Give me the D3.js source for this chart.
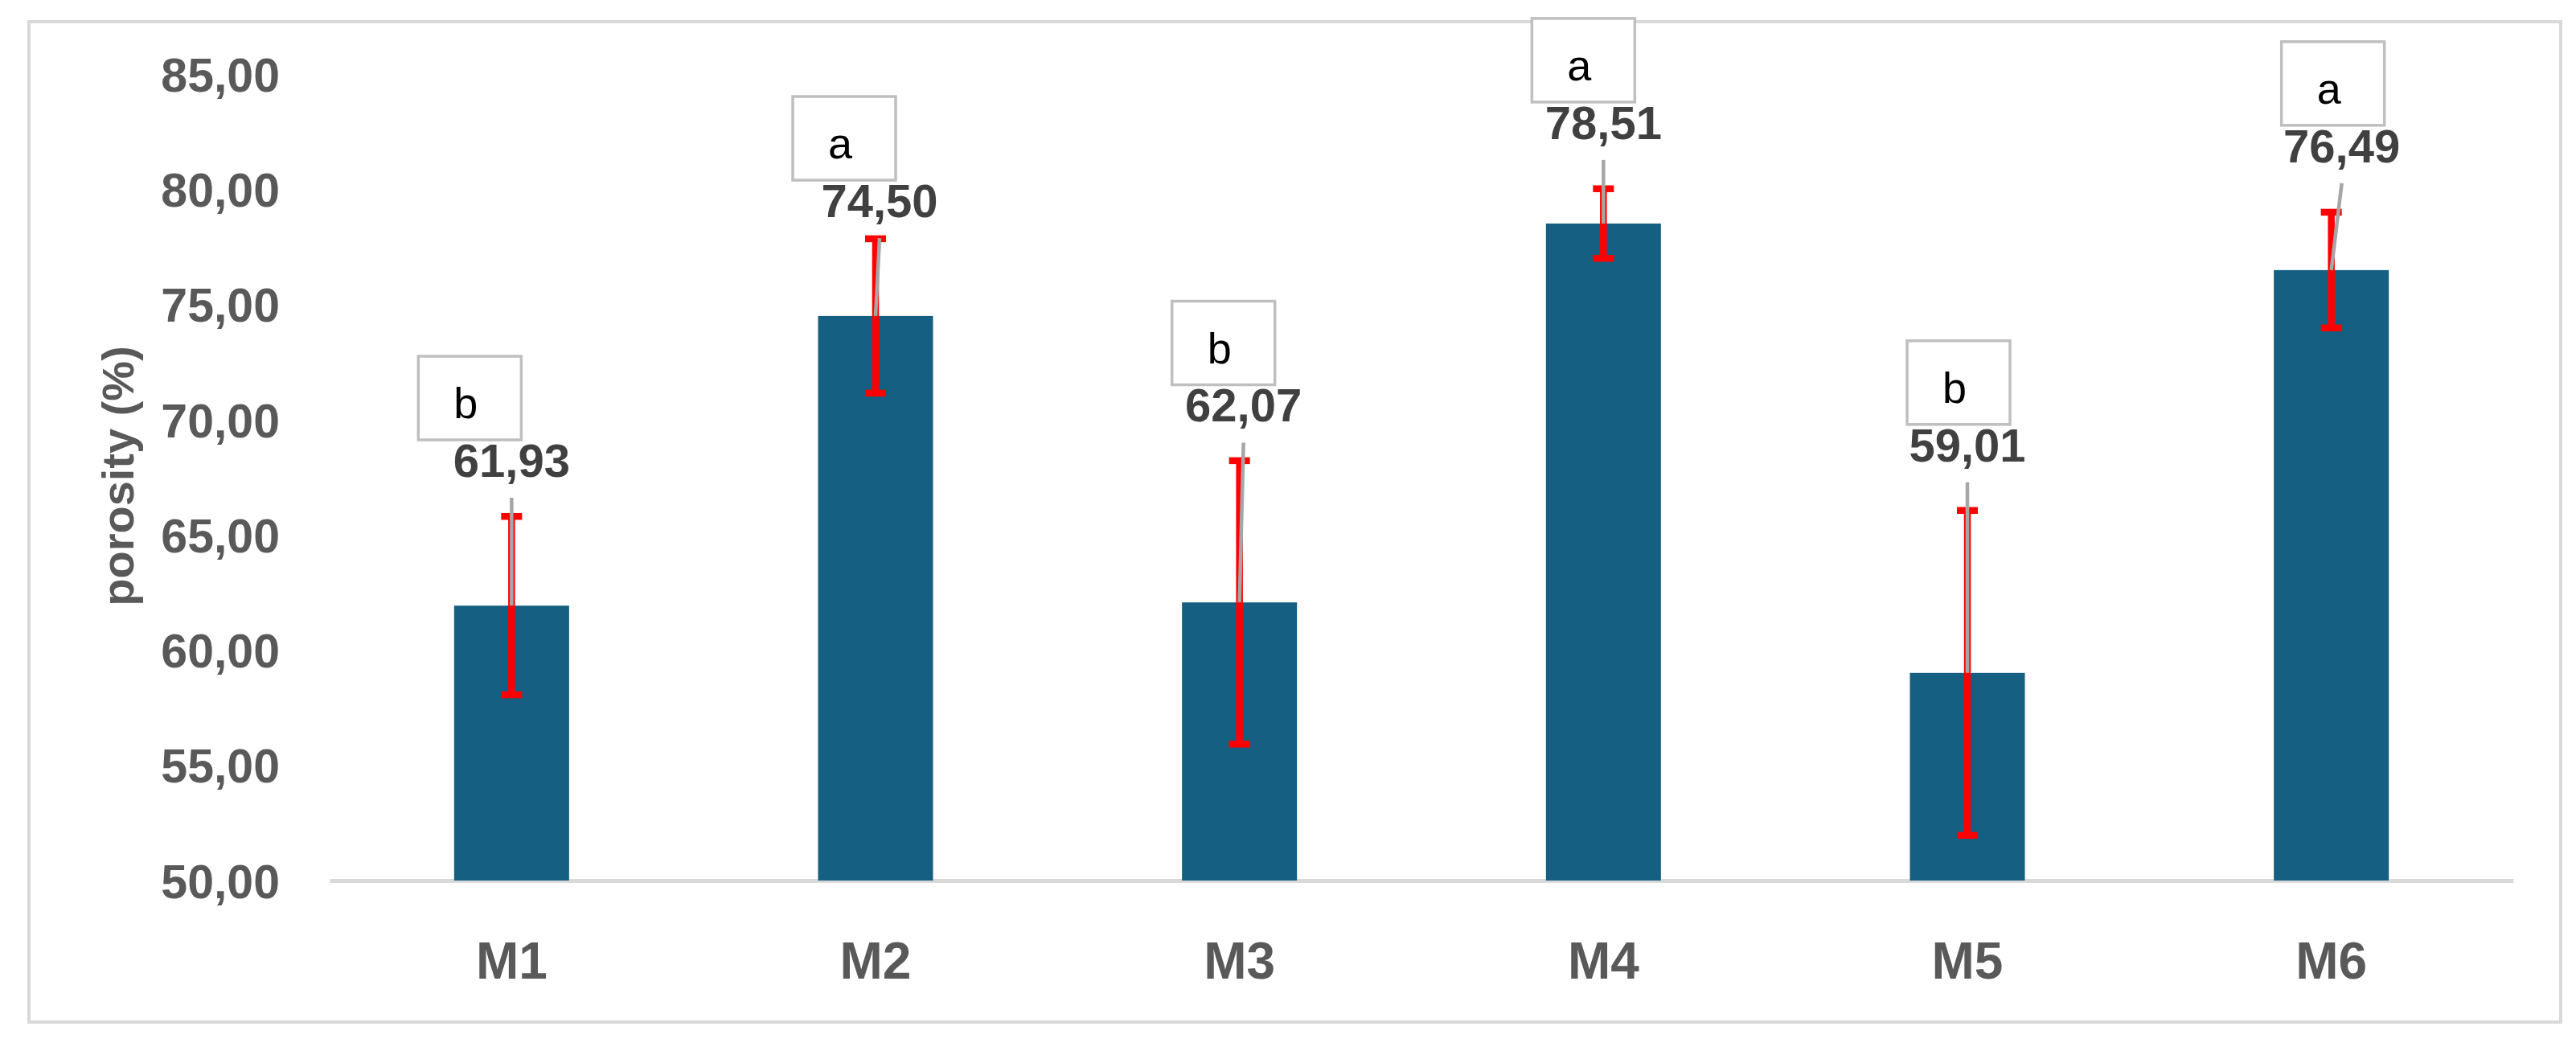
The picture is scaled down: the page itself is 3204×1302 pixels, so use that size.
<!DOCTYPE html>
<html>
<head>
<meta charset="utf-8">
<script src="https://cdn.jsdelivr.net/npm/d3@7"></script>
<style>
  body { margin: 0; background: #fff; }
  svg { display: block; }
</style>
</head>
<body>
<svg id="chart" width="3204" height="1302"></svg>
<script>
// data
const categories = ["M1", "M2", "M3", "M4", "M5", "M6"];
const porosity = [61.93, 74.50, 62.07, 78.51, 59.01, 76.49];
const stdev = [3.87, 3.35, 6.15, 1.51, 7.05, 2.51];
const groups = ["b", "a", "b", "a", "b", "a"];
const yTicks = [50, 55, 60, 65, 70, 75, 80, 85];

// hand placed labels (they were dragged around in the original)
const labelLevel = [68.25, 79.52, 70.64, 82.91, 68.92, 81.90]; // axis units
const labelNudge = [0, 5, 5, 0, 0, 13];
const boxNudge = [-116, -103, -84, -89, -75, -62];

const W = 3204, H = 1302;
const margin = {left: 410, right: 78, top: 92, bottom: 207};

const svg = d3.select('#chart');

const locale = d3.formatLocale({decimal: ",", thousands: ".", grouping: [3], currency: ["", ""]});
const fmt = locale.format(".2f");

let x = d3.scaleBand()
    .domain(categories)
    .range([margin.left, W - margin.right])
    .padding(0);

let y = d3.scaleLinear()
    .domain([50, 85])
    .range([H - margin.bottom, margin.top]);

const cx = d => x(d) + x.bandwidth() / 2;
const barW = x.bandwidth() * 0.316;

// outer frame
svg.append('rect')
    .attr('x', 36).attr('y', 27)
    .attr('width', 3149).attr('height', 1244)
    .attr('fill', '#fff')
    .attr('stroke', '#d9d9d9')
    .attr('stroke-width', 4);

// y axis (labels only)
const gy = svg.append('g')
    .attr('transform', `translate(${margin.left - 62},0)`)
    .call(d3.axisLeft(y).tickValues(yTicks).tickSize(0).tickPadding(0).tickFormat(fmt));
gy.select('.domain').remove();
gy.selectAll('text')
    .attr('dy', '0.36em')
    .style('font-family', '"Liberation Sans", Arial, sans-serif')
    .style('font-weight', 'bold')
    .style('font-size', '59px')
    .style('fill', '#595959');

// x axis
const gx = svg.append('g')
    .attr('transform', `translate(0,${y(50)})`)
    .call(d3.axisBottom(x).tickSize(0).tickSizeOuter(0).tickPadding(0));
gx.select('.domain')
    .attr('stroke', '#d9d9d9')
    .attr('stroke-width', 5);
gx.selectAll('text')
    .attr('y', 122)
    .attr('dy', 0)
    .style('font-family', '"Liberation Sans", Arial, sans-serif')
    .style('font-weight', 'bold')
    .style('font-size', '64px')
    .style('fill', '#595959');

// axis title
svg.append('text')
    .attr('transform', `translate(166,${592}) rotate(-90)`)
    .attr('text-anchor', 'middle')
    .style('font-family', '"Liberation Sans", Arial, sans-serif')
    .style('font-weight', 'bold')
    .style('font-size', '56px')
    .style('fill', '#595959')
    .text('porosity (%)');

const rows = categories.map((c, i) => ({
    cat: c, v: porosity[i], sd: stdev[i], grp: groups[i],
    lvl: labelLevel[i], ldx: labelNudge[i], bdx: boxNudge[i]
}));

// bars
svg.append('g').selectAll('rect')
    .data(rows)
    .enter()
    .append('rect')
        .attr('x', d => cx(d.cat) - barW / 2)
        .attr('y', d => y(d.v))
        .attr('width', barW)
        .attr('height', d => y(50) - y(d.v))
        .attr('fill', '#156082');

// error bars
const err = svg.append('g')
    .attr('stroke', '#ff0000')
    .attr('stroke-width', 8.5);
err.selectAll('line.stem')
    .data(rows)
    .enter()
    .append('line')
        .attr('class', 'stem')
        .attr('x1', d => cx(d.cat)).attr('x2', d => cx(d.cat))
        .attr('y1', d => y(d.v - d.sd)).attr('y2', d => y(d.v + d.sd));
err.selectAll('line.cap')
    .data(rows.flatMap(d => [{cat: d.cat, v: d.v - d.sd}, {cat: d.cat, v: d.v + d.sd}]))
    .enter()
    .append('line')
        .attr('class', 'cap')
        .attr('x1', d => cx(d.cat) - 13).attr('x2', d => cx(d.cat) + 13)
        .attr('y1', d => y(d.v)).attr('y2', d => y(d.v));

// leader lines from label to bar top
svg.append('g').selectAll('line')
    .data(rows)
    .enter()
    .append('line')
        .attr('x1', d => cx(d.cat) + d.ldx)
        .attr('y1', d => y(d.lvl) + 47)
        .attr('x2', d => cx(d.cat))
        .attr('y2', d => y(d.v))
        .attr('stroke', '#a6a6a6')
        .attr('stroke-width', 4.5);

// value labels
svg.append('g').selectAll('text')
    .data(rows)
    .enter()
    .append('text')
        .attr('x', d => cx(d.cat) + d.ldx)
        .attr('y', d => y(d.lvl))
        .attr('dy', '0.36em')
        .attr('text-anchor', 'middle')
        .style('font-family', '"Liberation Sans", Arial, sans-serif')
        .style('font-weight', 'bold')
        .style('font-size', '58px')
        .style('fill', '#404040')
        .text(d => fmt(d.v));

// group letter boxes
const box = svg.append('g').selectAll('g')
    .data(rows)
    .enter()
    .append('g')
        .attr('transform', d => `translate(${cx(d.cat) + d.bdx},${y(d.lvl) - 129})`);
box.append('rect')
    .attr('width', 128).attr('height', 104)
    .attr('fill', '#fff')
    .attr('stroke', '#bfbfbf')
    .attr('stroke-width', 3.5);
box.append('text')
    .attr('x', 44).attr('y', 77)
    .style('font-family', '"Liberation Sans", Arial, sans-serif')
    .style('font-size', '54px')
    .style('fill', '#000')
    .text(d => d.grp);
</script>
</body>
</html>
